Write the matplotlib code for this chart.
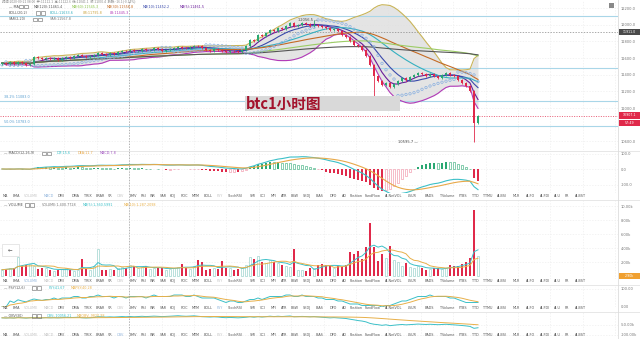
import numpy as np
import pandas as pd
import matplotlib
matplotlib.use('Agg')
import matplotlib.pyplot as plt
from matplotlib.patches import Rectangle
from matplotlib.lines import Line2D

# hourly closes (left to right)
closes = [11540, 11525, 11548, 11532, 11555, 11540, 11520, 11530, 11610, 11598,
          11585, 11600, 11590, 11605, 11580, 11600, 11615, 11605, 11620, 11640,
          11630, 11618, 11625, 11640, 11660, 11650, 11640, 11655, 11648, 11670,
          11690, 11680, 11700, 11685, 11690, 11705, 11695, 11700, 11715, 11705,
          11690, 11695, 11710, 11720, 11735, 11725, 11715, 11730, 11745, 11740,
          11720, 11700, 11690, 11705, 11695, 11680, 11670, 11690, 11680, 11670,
          11695, 11740, 11820, 11810, 11880, 11860, 11900, 11940, 11925, 11960,
          11950, 11990, 12015, 11980, 11995, 12020, 12010, 11990, 12000, 11985,
          11975, 11960, 11940, 11950, 11925, 11880, 11850, 11800, 11760, 11740,
          11700, 11620, 11520, 11390, 11330, 11280, 11300, 11250, 11285, 11320,
          11360, 11340, 11370, 11395, 11420, 11405, 11390, 11410, 11380, 11360,
          11395, 11420, 11400, 11380, 11340, 11300, 11270, 11210, 10820, 10907.1]
first_open = 11530
high_marks = {78: 12056.5}
low_marks = {93: 11150, 118: 10595.7}
volumes = [900, 1000, 1100, 1100, 2700, 1500, 1600, 1700, 1500, 1000,
           1100, 1200, 900, 700, 800, 1000, 1200, 800, 700, 900,
           2500, 1000, 900, 1400, 3800, 900, 800, 1000, 900, 1100,
           1300, 1200, 1600, 1500, 1100, 1300, 1400, 1000, 1200, 1100,
           1200, 900, 1000, 1200, 1300, 1700, 1100, 1000, 1400, 2300,
           2000, 900, 1000, 1100, 1000, 2200, 1100, 1200, 900, 1000,
           1200, 1600, 2700, 2400, 2800, 2000, 1900, 2300, 2000, 1800,
           1600, 1500, 1300, 3800, 800, 900, 700, 1200, 1100, 1600,
           1700, 1600, 1500, 1200, 1500, 1300, 1600, 3500, 3200, 3600,
           2400, 4200, 7600, 4200, 2200, 3200, 2600, 4300, 2300, 2000,
           1500, 1800, 1300, 1200, 1500, 1100, 900, 1000, 1100, 1100,
           1000, 1200, 1600, 1400, 1500, 1700, 2000, 2600, 9500, 2900]
obv_start = -15000
price_ticks = [10600, 11000, 11200, 11400, 11600, 11800, 12000, 12200]
fib_levels = [12100, 11477, 11083, 10783]
fib_labels = {11083: '38.2% 11083.0', 10783: '50.0% 10783.0'}
tabs = ['MA', 'EMA', 'VOLUME', 'MACD', 'DMI', 'DMA', 'TRIX', 'BRAR', 'VR', 'OBV', 'EMV',
        'RSI', 'WR', 'SAR', 'KDJ', 'ROC', 'MTM', 'BOLL', 'PSY', 'StochRSI', 'SMI', 'CCI',
        'MFI', 'ATR', 'BBW', 'SKDJ', 'BIAS', 'DPO', 'AO', 'Position', 'FundFlow',
        'AI-NetVOL', 'LSUR', 'BADS', 'TVolume', 'FTBS', 'TTD', 'TTMU', 'AI-BSI', 'MLR',
        'AI-FO', 'AI-FDI', 'AI-U', 'FR', 'AI-BST']
tab_x = [5, 16, 31, 49, 61, 76, 88, 100, 110, 120, 133, 143, 153, 163, 173, 184, 196,
         208, 220, 235, 253, 263, 274, 284, 295, 307, 320, 333, 344, 356, 373, 394, 412,
         429, 447, 463, 475, 488, 502, 516, 531, 545, 557, 567, 580]

W, H = 640, 339
UP, DOWN = '#2aa872', '#e0294a'
fig = plt.figure(figsize=(6.4, 3.39), dpi=100)
fig.patch.set_facecolor('white')


def panel(top, bottom):
    ax = fig.add_axes([0, 1 - bottom / H, 618 / W, (bottom - top) / H])
    for s in ax.spines.values():
        s.set_visible(False)
    ax.set_xlim(-0.5, 154)
    ax.set_xticks(np.arange(7.5, 154, 8.1))
    ax.tick_params(axis='x', length=0, labelbottom=False)
    ax.yaxis.tick_right()
    ax.tick_params(axis='y', length=0, labelsize=2.6, labelcolor='#777777', pad=2)
    ax.grid(True, color='#efefef', lw=0.5, ls=(0, (2, 2)))
    ax.set_axisbelow(True)
    return ax


def ftext(x, y, s, **kw):
    kw.setdefault('va', 'center')
    kw.setdefault('fontsize', 2.4)
    return fig.text(x / W, 1 - y / H, s, **kw)


def icons(x, y):
    for dx in (0, 5):
        fig.patches.append(Rectangle(((x + dx) / W, 1 - (y + 1.8) / H), 3.6 / W, 3.6 / H,
                                     transform=fig.transFigure, fill=False,
                                     ec='#666666', lw=0.4))


c = pd.Series(closes, dtype=float)
n = len(c)
x = np.arange(n)
o = np.r_[first_open, c.values[:-1]]
hi = np.maximum(o, c.values) + 12
lo = np.minimum(o, c.values) - 12
for k, v in high_marks.items():
    hi[k] = v
for k, v in low_marks.items():
    lo[k] = v
up = c.values >= o
vol = pd.Series(volumes, dtype=float)

# ---------- main price panel ----------
ax = panel(0, 150)
ax.set_ylim(10496, 12296)
ax.set_yticks(price_ticks)
ax.yaxis.set_major_formatter(lambda v, p: f'{v:.1f}')

mb = c.rolling(20, min_periods=1).mean()
sd = c.rolling(20, min_periods=1).std(ddof=0).fillna(0)
ub, lb = mb + 2 * sd, mb - 2 * sd
ax.fill_between(x, lb, ub, color='#dcdcdc', alpha=0.75, lw=0, zorder=1)
ax.plot(x, ub, color='#c9b458', lw=0.8, zorder=2)
ax.plot(x, lb, color='#b23ab8', lw=0.8, zorder=2)
ma_style = [(5, '#6a1b9a'), (10, '#3949ab'), (20, '#35b0c0'), (30, '#c46a24'),
            (60, '#9ccc65'), (120, '#555555')]
for p, col in ma_style:
    ax.plot(x, c.rolling(p, min_periods=1).mean(), color=col, lw=0.8, zorder=2)


def psar(h, l, step=0.02, amax=0.2):
    s = np.zeros(len(h))
    bull, af, ep = True, step, h[0]
    s[0] = l[0]
    for i in range(1, len(h)):
        v = s[i - 1] + af * (ep - s[i - 1])
        if bull:
            v = min(v, l[i - 1], l[max(i - 2, 0)])
            if l[i] < v:
                bull, v, ep, af = False, ep, l[i], step
            elif h[i] > ep:
                ep, af = h[i], min(af + step, amax)
        else:
            v = max(v, h[i - 1], h[max(i - 2, 0)])
            if h[i] > v:
                bull, v, ep, af = True, ep, h[i], step
            elif l[i] < ep:
                ep, af = l[i], min(af + step, amax)
        s[i] = v
    return s


ax.scatter(x, psar(hi, lo), s=3, facecolors='none', edgecolors='#86aee0', lw=0.5, zorder=3)
cols = np.where(up, UP, DOWN)
ax.vlines(x, lo, hi, color=cols, lw=0.6, zorder=4)
body = np.maximum(np.abs(c.values - o), 4)
ax.bar(x, body, bottom=np.minimum(o, c.values), width=0.7, color=cols, zorder=5)
for lv in fib_levels:
    ax.axhline(lv, color='#a9d6e8', lw=0.8, zorder=1.5)
    if lv in fib_labels:
        ax.text(0.5, lv + 25, fib_labels[lv], fontsize=2.4, color='#5a9fd0', va='bottom')
ax.axhline(11911, color='#888888', lw=0.5, ls=(0, (2, 2)), zorder=1.5)
ax.axhline(closes[-1], color=DOWN, lw=0.5, ls=(0, (1.5, 2)), zorder=1.5)
ax.text(74, 12056.5, '12056.5 \u2014', fontsize=2.6, color='#444444', va='center')
ax.text(99, 10595.7, '10595.7 \u2014', fontsize=2.6, color='#444444', va='center')

# ---------- MACD panel ----------
axm = panel(151, 193)
dif = c.ewm(span=12, adjust=False).mean() - c.ewm(span=26, adjust=False).mean()
dea = dif.ewm(span=9, adjust=False).mean()
hist = 2 * (dif - dea)
scale = 100 / 15.5
axm.set_ylim(-(193 - 169) * scale, (169 - 151) * scale)
axm.set_yticks([-100, 0, 100])
axm.yaxis.set_major_formatter(lambda v, p: f'{v:.1f}')
prev = 0
for i, hv in enumerate(hist):
    col = UP if hv >= 0 else DOWN
    grow = abs(hv) >= abs(prev)
    if grow:
        axm.bar(i, hv, width=0.7, color=col, lw=0)
    else:
        axm.bar(i, hv, width=0.7, facecolor='white',
                edgecolor=UP if hv >= 0 else '#f08aa0', lw=0.4)
    prev = hv
axm.plot(x, dif, color='#3cc0c8', lw=0.8)
axm.plot(x, dea, color='#e8a94a', lw=0.8)

# ---------- volume panel ----------
axv = panel(200, 279)
axv.set_ylim(-(279 - 276) * 1000 / 7, (276 - 200) * 1000 / 7)
axv.set_yticks([2000, 4000, 6000, 8000, 10000])
axv.yaxis.set_major_formatter(lambda v, p: f'{v / 1000:.2f}k')
for i in range(n):
    if up[i]:
        axv.bar(i, vol[i], width=0.7, facecolor='white', edgecolor='#9fd5cf', lw=0.5)
    else:
        axv.bar(i, vol[i], width=0.7, color=DOWN, lw=0)
axv.plot(x, vol.rolling(5, min_periods=1).mean(), color='#3cc0c8', lw=0.7)
axv.plot(x, vol.rolling(10, min_periods=1).mean(), color='#e8b04a', lw=0.7)

# ---------- PSY panel ----------
axp = panel(285, 307)
psy = (c.diff() > 0).astype(float).rolling(12, min_periods=1).mean() * 100
axp.set_ylim(0, 100 + 4 * 100 / 18)
axp.set_yticks([0, 100])
axp.yaxis.set_major_formatter(lambda v, p: f'{v:.2f}')
axp.plot(x, psy, color='#3cc0c8', lw=0.7)
axp.plot(x, psy.rolling(6, min_periods=1).mean(), color='#e8b04a', lw=0.7)

# ---------- OBV panel ----------
axo = panel(312, 336)
obv = pd.Series(np.where(up, 1, -1) * vol.values).cumsum() + obv_start
axo.set_ylim(-105000, 15000)
axo.set_yticks([-100000, -50000])
axo.yaxis.set_major_formatter(lambda v, p: f'{v / 1000:.2f}k')
axo.plot(x, obv, color='#3cc0c8', lw=0.7)
axo.plot(x, obv.rolling(30, min_periods=1).mean(), color='#e8b04a', lw=0.7)

# ---------- separators, crosshair ----------
for yy in (150.5, 199.5, 284.5, 311.5):
    fig.add_artist(Line2D([0, 1], [1 - yy / H] * 2, color='#e3e3e3', lw=0.6))
fig.add_artist(Line2D([618 / W] * 2, [0, 1], color='#dddddd', lw=0.6))
fig.add_artist(Line2D([129 / W] * 2, [0, 1], color='#999999', lw=0.5, ls=(0, (2, 2))))

# tab bars
active = {'VOLUME', 'MACD', 'OBV', 'PSY'}
for ty, own in ((196, 'MACD'), (281, 'VOLUME'), (308, 'PSY'), (335, 'OBV')):
    for w, tx in zip(tabs, tab_x):
        col = '#555555'
        if w in active:
            col = '#c4c4c4'
        if w == own:
            col = '#8fb4dc'
        ftext(tx, ty, w, ha='center', color=col)

# legends
ftext(2, 1.5, '\u65f6\u95f4:2020-09-21 08:00  \u5f00:11112.1  \u9ad8:11122.6  '
      '\u4f4e:11041.1  \u6536:11096.4  \u6da8\u8dcc:-16.1(-0.14%)',
      color='#888888', family=['Noto Sans CJK SC', 'DejaVu Sans'])
ftext(9, 6.5, '\u2014 MA', color='#555555')
icons(19, 6.5)
for tx, s, col in ((34, 'MA(120):11461.4', '#555555'), (72, 'MA(60):11545.3', '#8bc34a'),
                   (107, 'MA(30):11556.8', '#c46a24'), (143, 'MA(10):11452.2', '#3949ab'),
                   (180, 'MA(5):11461.5', '#6a1b9a')):
    ftext(tx, 6.5, s, color=col)
ftext(9, 13, 'BOLL(20,2)', color='#555555')
icons(36, 13)
for tx, s, col in ((50, 'BOLL:11633.6', '#35b0c0'), (83, 'UB:11795.8', '#c9a440'),
                   (110, 'LB:11445.3', '#b23ab8')):
    ftext(tx, 13, s, color=col)
ftext(9, 19.5, 'SAR(2,20)', color='#555555')
icons(33, 19.5)
ftext(50, 19.5, 'SAR:11567.8', color='#777777')

ftext(4, 153.5, '\u2014 MACD(12,26,9)', color='#555555')
icons(42, 153.5)
for tx, s, col in ((57, 'DIF:15.6', '#3cc0c8'), (78, 'DEA:11.7', '#e8a94a'),
                   (100, 'MACD:7.8', '#a050c0')):
    ftext(tx, 153.5, s, color=col)
ftext(4, 205, '\u2014 VOLUME', color='#555555')
icons(25, 205)
for tx, s, col in ((42, 'VOLUME:1,400.7728', '#777777'), (83, 'MA(5):1,360.5991', '#3cc0c8'),
                   (124, 'MA(10):1,287.2098', '#e8b04a')):
    ftext(tx, 205, s, color=col)
ftext(4, 288, '\u2014 PSY(12,6)', color='#555555')
icons(32, 288)
ftext(49, 288, 'PSY:41.67', color='#3cc0c8')
ftext(71, 288, 'MAPSY:40.28', color='#e8b04a')
ftext(4, 316, '\u2014 OBV(30)', color='#555555')
icons(32, 316)
ftext(47, 316, 'OBV:-10056.21', color='#3cc0c8')
ftext(77, 316, 'MAOBV:-9820.98', color='#e8b04a')

# collapse button on volume
fig.patches.append(Rectangle((2 / W, 1 - 256 / H), 17 / W, 12 / H, transform=fig.transFigure,
                             facecolor='white', ec='#dddddd', lw=0.5))
ftext(10.5, 250, '\u2190', ha='center', color='#555555', fontsize=4)

# title box
fig.patches.append(Rectangle((245 / W, 1 - 111 / H), 155 / W, 15 / H,
                             transform=fig.transFigure, facecolor='#d9d9d9', lw=0))
ftext(246, 103.5, 'btc1\u5c0f\u65f6\u56fe', color='#a3122c', fontsize=10.5, weight='bold',
      family=['Noto Sans CJK SC', 'DejaVu Sans'])

# price badges
for by, s, fc in ((32, '11911.0', '#4a4a4a'), (115.5, '10907.1', '#e0294a'),
                  (123, '57:49', '#e0294a'), (276, '2.90k', '#f0a030')):
    fig.patches.append(Rectangle((619 / W, 1 - (by + 3.2) / H), 21 / W, 6.4 / H,
                                 transform=fig.transFigure, facecolor=fc, lw=0))
    ftext(629.5, by, s, ha='center', color='white', fontsize=2.3)
fig.patches.append(Rectangle((609 / W, 1 - 8 / H), 5 / W, 5 / H, transform=fig.transFigure,
                             facecolor='#888888', lw=0))

fig.savefig('out.png', dpi=100)
